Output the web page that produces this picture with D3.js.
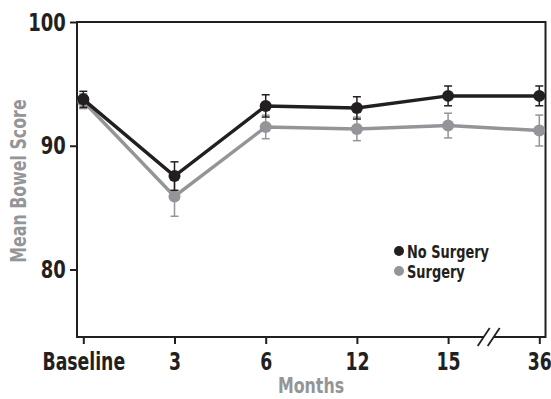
<!DOCTYPE html>
<html>
<head>
<meta charset="utf-8">
<script src="https://cdn.jsdelivr.net/npm/d3@7"></script>
<style>
  body { margin: 0; background: #fff; }
  text { font-family: "DejaVu Sans Condensed", "Liberation Sans Narrow", sans-serif; font-weight: bold; }
</style>
</head>
<body>
<div id="chart"></div>
<script>
// data
var months = ["Baseline", "3", "6", "12", "15", "36"]
var noSurgery = [93.75, 87.55, 93.22, 93.06, 94.03, 94.03]
var noSurgeryErr = [0.65, 1.15, 0.9, 0.9, 0.8, 0.8]
var surgery = [93.6, 85.9, 91.52, 91.36, 91.63, 91.23]
var surgeryErr = [0.6, 1.6, 0.95, 0.95, 1.0, 1.25]
var yTicks = [80, 90, 100]

var width = 551, height = 399
var plotLeft = 77, plotRight = 545.5, plotTop = 22, plotBottom = 337

var black = "#231f20", gray = "#939598"
var squeeze = "scale(0.8,1)"

var svg = d3.select("#chart").append("svg")
    .attr("width", width)
    .attr("height", height)

var x = d3.scalePoint()
    .domain(months)
    .range([83.3, 539.3])

var y = d3.scaleLinear()
    .domain([100, 80])
    .range([plotTop, 269.5])

// frame
svg.append("rect")
    .attr("x", plotLeft).attr("y", plotTop)
    .attr("width", plotRight - plotLeft).attr("height", plotBottom - plotTop)
    .attr("fill", "none").attr("stroke", black).attr("stroke-width", 2)

// y axis
var yAxis = svg.append("g")
    .attr("transform", "translate(" + plotLeft + ",0)")
    .call(d3.axisLeft(y).tickValues(yTicks).tickSize(7).tickPadding(4))
yAxis.select(".domain").remove()
yAxis.selectAll("line").attr("stroke", black).attr("stroke-width", 2)
yAxis.selectAll("text").attr("font-size", 25).attr("fill", black)
    .attr("font-family", null)
    .attr("transform", squeeze)
    .attr("x", -14)

// x axis
var xAxis = svg.append("g")
    .attr("transform", "translate(0," + plotBottom + ")")
    .call(d3.axisBottom(x).tickSize(7).tickPadding(6))
xAxis.select(".domain").remove()
xAxis.selectAll("line").attr("stroke", black).attr("stroke-width", 2)
xAxis.selectAll("text").attr("font-size", 24).attr("fill", black)
    .attr("font-family", null)
    .attr("transform", squeeze)
    .attr("dy", "0.85em")

// axis break between 15 and 36
var bx = (x("15") + x("36")) / 2 - 5
svg.append("rect")
    .attr("x", bx - 5).attr("y", plotBottom - 3)
    .attr("width", 10).attr("height", 6)
    .attr("fill", "#fff")
;[-5, 5].forEach(function (o) {
    svg.append("line")
        .attr("x1", bx + o - 6).attr("y1", plotBottom + 9)
        .attr("x2", bx + o + 6).attr("y2", plotBottom - 9)
        .attr("stroke", black).attr("stroke-width", 1.8)
})

// titles
svg.append("text")
    .attr("transform", "translate(26,181) rotate(-90) " + squeeze)
    .attr("text-anchor", "middle")
    .attr("font-size", 22)
    .attr("fill", gray)
    .text("Mean Bowel Score")

svg.append("text")
    .attr("transform", "translate(311,393) " + squeeze)
    .attr("text-anchor", "middle")
    .attr("font-size", 22)
    .attr("fill", gray)
    .text("Months")

var line = d3.line()
    .x(function (d, i) { return x(months[i]) })
    .y(function (d) { return y(d) })

function drawSeries(vals, errs, color) {
    var g = svg.append("g")
    g.append("path")
        .datum(vals)
        .attr("d", line)
        .attr("fill", "none")
        .attr("stroke", color)
        .attr("stroke-width", 3.5)

    var eb = g.selectAll("g.err")
        .data(vals)
        .enter()
        .append("g")
        .attr("class", "err")
    eb.append("line")
        .attr("x1", function (d, i) { return x(months[i]) })
        .attr("x2", function (d, i) { return x(months[i]) })
        .attr("y1", function (d, i) { return y(d - errs[i]) })
        .attr("y2", function (d, i) { return y(d + errs[i]) })
        .attr("stroke", color).attr("stroke-width", 1.5)
    ;[-1, 1].forEach(function (s) {
        eb.append("line")
            .attr("x1", function (d, i) { return x(months[i]) - 4 })
            .attr("x2", function (d, i) { return x(months[i]) + 4 })
            .attr("y1", function (d, i) { return y(d + s * errs[i]) })
            .attr("y2", function (d, i) { return y(d + s * errs[i]) })
            .attr("stroke", color).attr("stroke-width", 1.5)
    })

    g.selectAll("circle")
        .data(vals)
        .enter()
        .append("circle")
        .attr("cx", function (d, i) { return x(months[i]) })
        .attr("cy", function (d) { return y(d) })
        .attr("r", 6)
        .attr("fill", color)
}

// surgery drawn first so no surgery sits on top
drawSeries(surgery, surgeryErr, gray)
drawSeries(noSurgery, noSurgeryErr, black)

// legend
var legend = [["No Surgery", black], ["Surgery", gray]]
legend.forEach(function (l, i) {
    var ly = 251 + i * 20
    svg.append("circle")
        .attr("cx", 399).attr("cy", ly).attr("r", 5)
        .attr("fill", l[1])
    svg.append("text")
        .attr("transform", "translate(407," + (ly + 6.5) + ") " + squeeze)
        .attr("font-size", 18)
        .attr("fill", black)
        .text(l[0])
})
</script>
</body>
</html>
